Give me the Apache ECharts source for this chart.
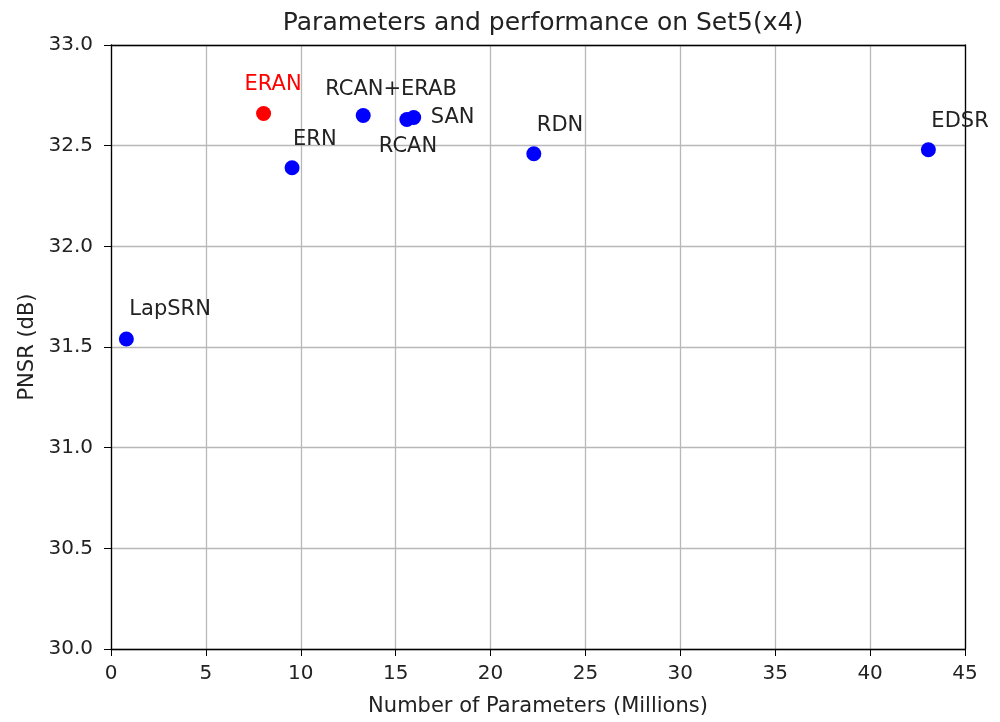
<!DOCTYPE html>
<html>
<head>
<meta charset="utf-8">
<script src="https://cdn.jsdelivr.net/npm/echarts@6/dist/echarts.min.js"></script>
<style>html,body{margin:0;padding:0;background:#fff}#c{width:1000px;height:722px}</style>
</head>
<body>
<div id="c"></div>
<script>
const methods = ['LapSRN', 'ERAN', 'ERN', 'RCAN+ERAB', 'RCAN', 'SAN', 'RDN', 'EDSR'];
const params = [0.81, 8.04, 9.54, 13.29, 15.59, 15.95, 22.28, 43.07];
const psnr = [31.54, 32.66, 32.39, 32.65, 32.63, 32.64, 32.46, 32.48];
const highlight = 'ERAN';
const xTicks = [0, 5, 10, 15, 20, 25, 30, 35, 40, 45];
const yTicks = [30.0, 30.5, 31.0, 31.5, 32.0, 32.5, 33.0];

// label placement (style config, offsets from marker centre in px)
const labelOffsets = {
  'LapSRN': [3, -29], 'ERAN': [-19, -29], 'ERN': [1, -28], 'RCAN+ERAB': [-38, -26],
  'RCAN': [-28, 27], 'SAN': [17, 0], 'RDN': [3, -28], 'EDSR': [3, -28]
};

const font = 'DejaVu Sans';
const textColor = '#222222';
const data = methods.map((m, i) => {
  const isHi = m === highlight;
  return {
    value: [params[i], psnr[i]],
    name: m,
    itemStyle: { color: isHi ? '#ff0000' : '#0000ff', opacity: 1 },
    label: {
      show: true, formatter: m, position: 'inside', align: 'left', verticalAlign: 'middle',
      offset: labelOffsets[m], color: isHi ? '#ff0000' : textColor,
      fontFamily: font, fontSize: 21
    }
  };
});

const chart = echarts.init(document.getElementById('c'), null, { renderer: 'canvas' });
const frameAxis = {
  type: 'value', axisLine: { show: true, onZero: false, lineStyle: { color: '#000', width: 1.3 } },
  axisTick: { show: false }, axisLabel: { show: false }, splitLine: { show: false }
};
chart.setOption({
  animation: false,
  backgroundColor: '#ffffff',
  title: {
    text: 'Parameters and performance on Set5(x4)', left: 538, top: 6, textAlign: 'center',
    textStyle: { fontFamily: font, fontSize: 25, fontWeight: 'normal', color: textColor }
  },
  grid: { left: 111, right: 35, top: 45, bottom: 68 },
  xAxis: [{
    type: 'value', min: xTicks[0], max: xTicks[xTicks.length - 1], interval: 5,
    name: 'Number of Parameters (Millions)', nameLocation: 'middle', nameGap: 47,
    nameTextStyle: { fontFamily: font, fontSize: 21, color: textColor },
    axisLine: { show: true, onZero: false, lineStyle: { color: '#000', width: 1.3 } },
    axisTick: { show: true, length: 7, lineStyle: { color: '#000' } },
    axisLabel: { margin: 15, fontFamily: font, fontSize: 20, color: textColor },
    splitLine: { show: true, lineStyle: { color: '#b8b8b8', width: 1.3 } }
  }, Object.assign({ position: 'top', min: xTicks[0], max: xTicks[xTicks.length - 1] }, frameAxis)],
  yAxis: [{
    type: 'value', min: yTicks[0], max: yTicks[yTicks.length - 1], interval: 0.5,
    name: 'PNSR (dB)', nameLocation: 'middle', nameGap: 72,
    nameTextStyle: { fontFamily: font, fontSize: 21, color: textColor },
    axisLine: { show: true, onZero: false, lineStyle: { color: '#000', width: 1.3 } },
    axisTick: { show: true, length: 7, lineStyle: { color: '#000' } },
    axisLabel: { margin: 18, fontFamily: font, fontSize: 20, color: textColor, formatter: v => v.toFixed(1) },
    splitLine: { show: true, lineStyle: { color: '#b8b8b8', width: 1.3 } }
  }, Object.assign({ position: 'right', min: yTicks[0], max: yTicks[yTicks.length - 1] }, frameAxis)],
  series: [{
    type: 'scatter', symbol: 'circle', symbolSize: 15, data: data,
    xAxisIndex: 0, yAxisIndex: 0,
    emphasis: { disabled: true }
  }]
});
</script>
</body>
</html>
